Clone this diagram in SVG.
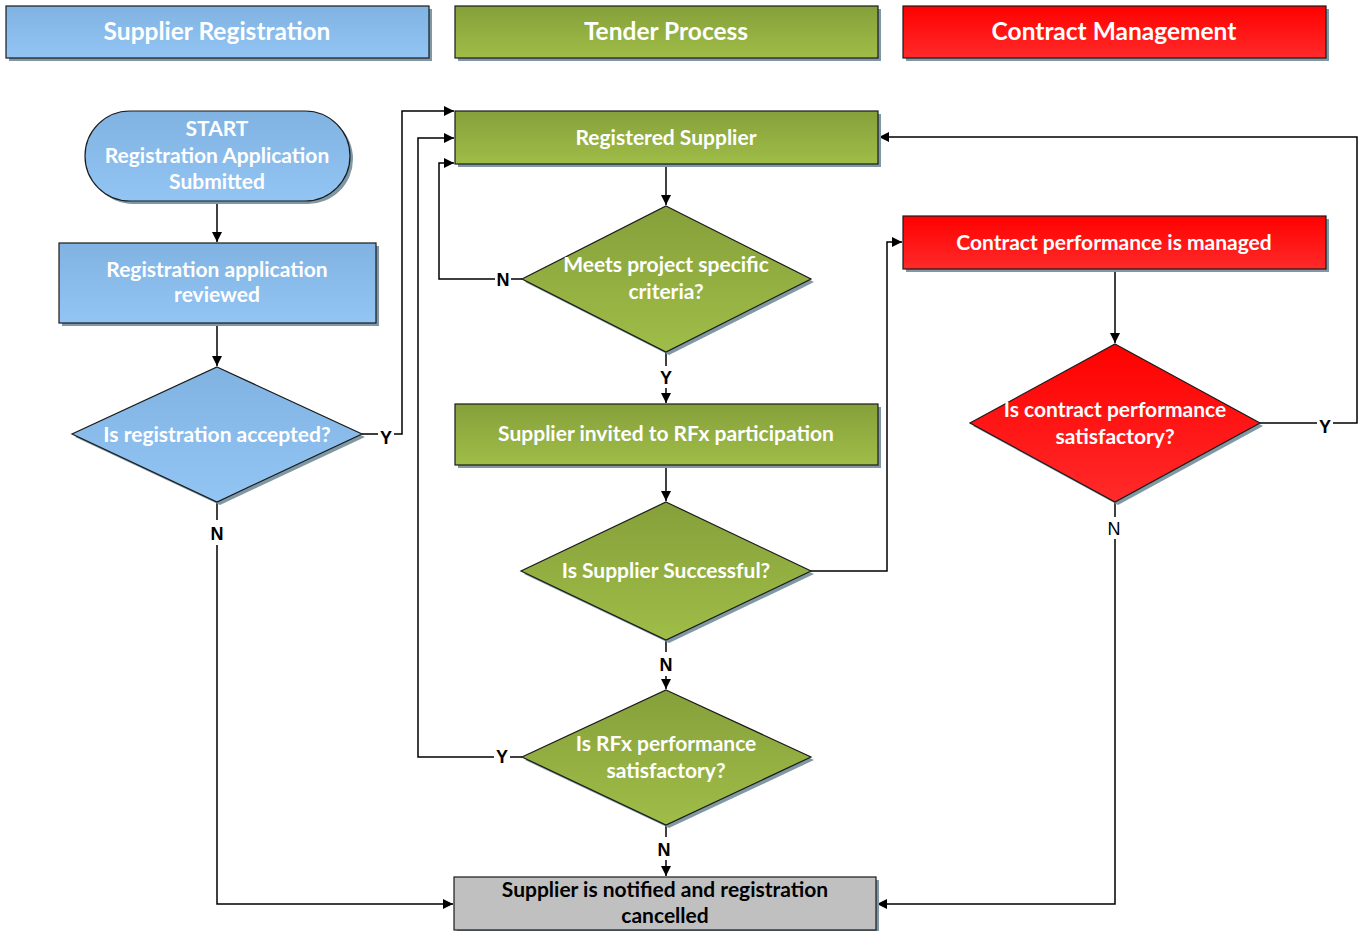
<svg xmlns="http://www.w3.org/2000/svg" width="1359" height="931" viewBox="0 0 1359 931">
<defs>
<linearGradient id="gb" x1="0" y1="0" x2="0" y2="1"><stop offset="0" stop-color="#80b3e2"/><stop offset="1" stop-color="#92c5f4"/></linearGradient>
<linearGradient id="gg" x1="0" y1="0" x2="0" y2="1"><stop offset="0" stop-color="#86a03a"/><stop offset="1" stop-color="#9fbd48"/></linearGradient>
<linearGradient id="gr" x1="0" y1="0" x2="0" y2="1"><stop offset="0" stop-color="#ff0000"/><stop offset="1" stop-color="#ff2a2a"/></linearGradient>
<marker id="ah" viewBox="0 0 10 10" refX="10" refY="5" markerWidth="10" markerHeight="10" markerUnits="userSpaceOnUse" orient="auto"><path d="M0,0 L10,5 L0,10 z" fill="#000"/></marker>
</defs>
<style>
.sh{fill:#7f98a3}
.b{fill:url(#gb);stroke:#1a1a1a;stroke-width:1.2}
.g{fill:url(#gg);stroke:#1a1a1a;stroke-width:1.2}
.r{fill:url(#gr);stroke:#1a1a1a;stroke-width:1.2}
.gy{fill:#c0c0c0;stroke:#1a1a1a;stroke-width:1.2}
.t{font-family:Lato,"Open Sans",sans-serif;font-weight:bold;font-size:21px;fill:#fff;text-anchor:middle}
.h{font-size:24.5px}
.k{fill:#000}
.c{fill:none;stroke:#000;stroke-width:1.5}
.l{font-family:"Liberation Sans",Arial,sans-serif;font-weight:bold;font-size:18px;fill:#000;text-anchor:middle}
</style>
<rect width="1359" height="931" fill="#fff"/>
<g id="hdr-supplier"><rect class="sh" x="9" y="9" width="423" height="52"/><rect class="b" x="6" y="6" width="423" height="52"/><text class="t h" x="217" y="40">Supplier Registration</text></g>
<g id="hdr-tender"><rect class="sh" x="458" y="9" width="423" height="52"/><rect class="g" x="455" y="6" width="423" height="52"/><text class="t h" x="666" y="40">Tender Process</text></g>
<g id="hdr-contract"><rect class="sh" x="906" y="9" width="423" height="52"/><rect class="r" x="903" y="6" width="423" height="52"/><text class="t h" x="1114" y="40">Contract Management</text></g>

<g id="connectors">
<line class="c" x1="217" y1="201" x2="217" y2="242" marker-end="url(#ah)"/>
<line class="c" x1="217" y1="323" x2="217" y2="366" marker-end="url(#ah)"/>
<polyline class="c" points="362,434 402,434 402,111 454,111" marker-end="url(#ah)"/>
<polyline class="c" points="217,502 217,520"/>
<polyline class="c" points="217,545 217,904 453,904" marker-end="url(#ah)"/>
<line class="c" x1="666" y1="164" x2="666" y2="205" marker-end="url(#ah)"/>
<polyline class="c" points="522,279 439,279 439,163 454,163" marker-end="url(#ah)"/>
<line class="c" x1="666" y1="352" x2="666" y2="366"/>
<line class="c" x1="666" y1="388" x2="666" y2="403" marker-end="url(#ah)"/>
<line class="c" x1="666" y1="465" x2="666" y2="501" marker-end="url(#ah)"/>
<polyline class="c" points="811,571 887,571 887,242 902,242" marker-end="url(#ah)"/>
<line class="c" x1="666" y1="640" x2="666" y2="652"/>
<line class="c" x1="666" y1="676" x2="666" y2="689" marker-end="url(#ah)"/>
<polyline class="c" points="522,757 418,757 418,138 454,138" marker-end="url(#ah)"/>
<line class="c" x1="666" y1="825" x2="666" y2="837"/>
<line class="c" x1="666" y1="860" x2="666" y2="876" marker-end="url(#ah)"/>
<line class="c" x1="1115" y1="269" x2="1115" y2="343" marker-end="url(#ah)"/>
<polyline class="c" points="1260,423 1357,423 1357,137 879,137" marker-end="url(#ah)"/>
<polyline class="c" points="1115,502 1115,517"/>
<polyline class="c" points="1115,539 1115,904 877,904" marker-end="url(#ah)"/>
<rect x="378" y="426" width="16" height="18" fill="#fff"/>
<text class="l" x="386" y="444">Y</text>
<text class="l" x="217" y="540">N</text>
<rect x="495" y="270" width="16" height="18" fill="#fff"/>
<text class="l" x="503" y="286">N</text>
<text class="l" x="666" y="384">Y</text>
<text class="l" x="666" y="671">N</text>
<rect x="494" y="747" width="16" height="18" fill="#fff"/>
<text class="l" x="502" y="763">Y</text>
<text class="l" x="664" y="856">N</text>
<rect x="1317" y="416" width="16" height="18" fill="#fff"/>
<text class="l" x="1325" y="433">Y</text>
<text class="l" x="1114" y="535" style="font-weight:normal">N</text>
</g>

<g id="start"><rect class="sh" x="88" y="114" width="265" height="90" rx="45"/><rect class="b" x="85" y="111" width="265" height="90" rx="45"/><text class="t" x="217" y="136">START</text><text class="t" x="217" y="163">Registration Application</text><text class="t" x="217" y="189">Submitted</text></g>
<g id="reviewed"><rect class="sh" x="62" y="246" width="317" height="80"/><rect class="b" x="59" y="243" width="317" height="80"/><text class="t" x="217" y="277">Registration application</text><text class="t" x="217" y="302">reviewed</text></g>
<g id="accepted"><polygon class="sh" points="220,370 365,437 220,505 75,437"/><polygon class="b" points="217,367 362,434 217,502 72,434"/><text class="t" x="217" y="442">Is registration accepted?</text></g>

<g id="registered"><rect class="sh" x="458" y="114" width="423" height="53"/><rect class="g" x="455" y="111" width="423" height="53"/><text class="t" x="666" y="145">Registered Supplier</text></g>
<g id="criteria"><polygon class="sh" points="669,209 814,282 669,355 525,282"/><polygon class="g" points="666,206 811,279 666,352 522,279"/><text class="t" x="666" y="272">Meets project specific</text><text class="t" x="666" y="299">criteria?</text></g>
<g id="invited"><rect class="sh" x="458" y="407" width="423" height="61"/><rect class="g" x="455" y="404" width="423" height="61"/><text class="t" x="666" y="441">Supplier invited to RFx participation</text></g>
<g id="successful"><polygon class="sh" points="669,505 814,574 669,643 524,574"/><polygon class="g" points="666,502 811,571 666,640 521,571"/><text class="t" x="666" y="578">Is Supplier Successful?</text></g>
<g id="rfxperf"><polygon class="sh" points="669,693 814,760 669,828 525,760"/><polygon class="g" points="666,690 811,757 666,825 522,757"/><text class="t" x="666" y="751">Is RFx performance</text><text class="t" x="666" y="778">satisfactory?</text></g>

<g id="managed"><rect class="sh" x="906" y="219" width="423" height="53"/><rect class="r" x="903" y="216" width="423" height="53"/><text class="t" x="1114" y="250">Contract performance is managed</text></g>
<g id="contractperf"><polygon class="sh" points="1118,347 1263,426 1118,505 973,426"/><polygon class="r" points="1115,344 1260,423 1115,502 970,423"/><text class="t" x="1115" y="417">Is contract performance</text><text class="t" x="1115" y="444">satisfactory?</text></g>

<g id="cancelled"><rect class="sh" x="457" y="880" width="422" height="53"/><rect class="gy" x="454" y="877" width="422" height="53"/><text class="t k" x="665" y="897">Supplier is notified and registration</text><text class="t k" x="665" y="923">cancelled</text></g>
</svg>
